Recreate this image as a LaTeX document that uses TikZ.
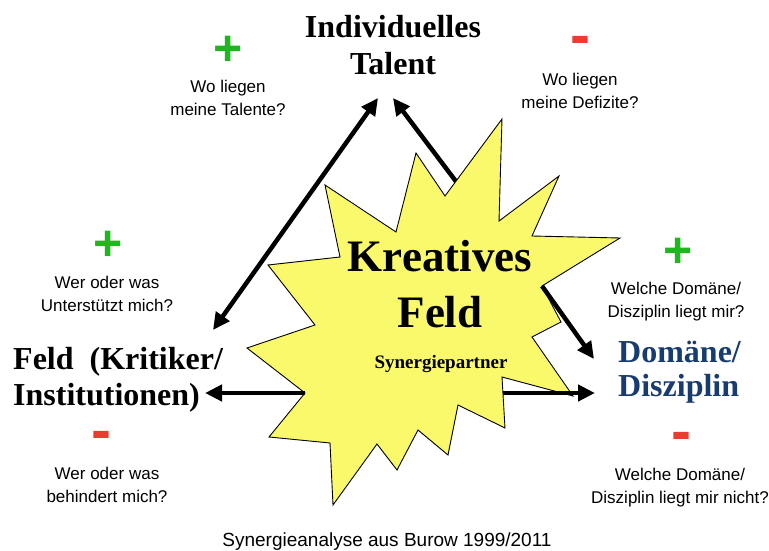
\documentclass[tikz,border=0pt]{standalone}
\usepackage{fontspec}
\setmainfont{Liberation Serif}
\setsansfont{Liberation Sans}
\usetikzlibrary{arrows.meta}
\definecolor{starfill}{HTML}{FAF96B}
\definecolor{plusgreen}{HTML}{1DB81D}
\definecolor{minusred}{HTML}{EE3B30}
\definecolor{domblue}{HTML}{173C70}
\tikzset{
  big/.style={font=\bfseries\fontsize{32}{36}\selectfont, inner sep=0pt},
  core/.style={font=\bfseries\fontsize{45}{56}\selectfont, align=center, inner sep=0pt},
  ask/.style={font=\sffamily\fontsize{17}{23}\selectfont, align=center, inner sep=0pt, anchor=base},
  plus/.style={text=plusgreen, font=\sffamily\bfseries\fontsize{50}{50}\selectfont, inner sep=0pt},
  minus/.style={text=minusred, font=\sffamily\bfseries\fontsize{60}{60}\selectfont, inner sep=0pt},
  link/.style={draw=black, line width=4.5pt, -{Triangle[length=17pt,width=16pt]}},
  burst/.style={draw=black, line width=0.9pt, fill=starfill, line join=miter},
}
\begin{document}
\begin{tikzpicture}[x=1pt,y=-1pt]
  \useasboundingbox (0,0) rectangle (769,551);
  % corner labels (base = last line)
  \node[big, align=center, anchor=base, font=\bfseries\fontsize{32}{38}\selectfont] (talent) at (393,75) {Individuelles\\Talent};
  \node[big, align=left, anchor=base west] (feld) at (13,405) {Feld~~(Kritiker/\\Institutionen)};
  \node[big, align=left, anchor=base west, text=domblue, font=\bfseries\fontsize{32}{34}\selectfont] (domaene) at (618,396) {Domäne/\\Disziplin};
  % questions
  \node[plus] (p1) at (228,51) {+};
  \node[ask] (q1) at (228,115) {Wo liegen\\meine Talente?};
  \node[minus] (m1) at (580,46) {-};
  \node[ask] (q2) at (580,108) {Wo liegen\\meine Defizite?};
  \node[plus] (p2) at (108,246) {+};
  \node[ask] (q3) at (107,311) {Wer oder was\\Unterstützt mich?};
  \node[minus] (m2) at (101,441) {-};
  \node[ask] (q4) at (107,502) {Wer oder was\\behindert mich?};
  \node[plus] (p3) at (678,253) {+};
  \node[ask] (q5) at (676,317) {Welche Domäne/\\Disziplin liegt mir?};
  \node[minus] (m3) at (681,442) {-};
  \node[ask] (q6) at (680,503) {Welche Domäne/\\Disziplin liegt mir nicht?};
  % arrow ends
  \coordinate (t-left) at (378,98);
  \coordinate (t-right) at (393,98);
  \coordinate (f-top) at (213,330);
  \coordinate (f-mid) at (205,393);
  \coordinate (d-top) at (594,359);
  \coordinate (d-mid) at (595,393);
  \coordinate (s-top) at (470,200);
  \coordinate (s-right) at (542,286);
  \coordinate (s-left) at (305,393);
  \coordinate (s-low) at (503,393);
  \draw[link, {Triangle[length=17pt,width=16pt]}-{Triangle[length=17pt,width=16pt]}] (f-top) -- (t-left);
  \draw[link] (s-top) -- (t-right);
  % the burst
  \draw[burst] (502,119) -- (499,221) -- (559,176) -- (532,236) -- (620,238)
    -- (542,286) -- (561,322) -- (532,337) -- (573,396) -- (502,377)
    -- (505,428) -- (458,405) -- (448,455) -- (418,430) -- (397,470)
    -- (377,444) -- (333,505) -- (330,443) -- (269,437) -- (305,393)
    -- (247,348) -- (315,325) -- (268,265) -- (340,257) -- (325,185)
    -- (396,232) -- (416,153) -- (445,196) -- cycle;
  \draw[link] (s-right) -- (d-top);
  \draw[link] (s-left) -- (f-mid);
  \draw[link] (s-low) -- (d-mid);
  \node[core, anchor=base] (kreativ) at (440,327) {Kreatives\\Feld};
  \node[anchor=base, inner sep=0pt, font=\bfseries\fontsize{19}{22}\selectfont] (partner) at (441,368) {Synergiepartner};
  \node[anchor=base, inner sep=0pt, font=\sffamily\fontsize{19}{22}\selectfont] (quelle) at (387,546) {Synergieanalyse aus Burow 1999/2011};
\end{tikzpicture}
\end{document}
